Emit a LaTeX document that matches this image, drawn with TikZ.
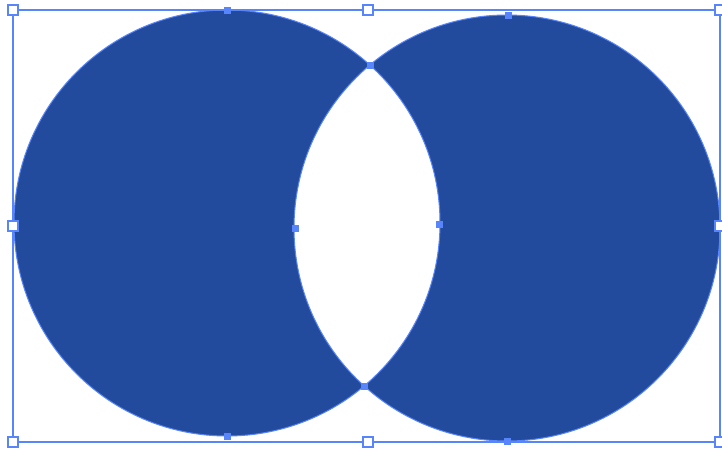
\documentclass[tikz,border=0pt]{standalone}
\usetikzlibrary{calc}
\definecolor{fillBlue}{RGB}{35,75,157}
\definecolor{selectBlue}{RGB}{88,134,250}

\begin{document}
\begin{tikzpicture}
[x=1pt,y=-1pt,
circleShape/.style={fill=fillBlue,draw=selectBlue,line width=1pt,even odd rule},
frame/.style={draw=selectBlue,line width=2pt},
handle/.style={rectangle,minimum size=10pt,inner sep=0pt,fill=white,draw=selectBlue,line width=2pt},
anchorPt/.style={rectangle,minimum size=7pt,inner sep=0pt,fill=selectBlue},
]
\useasboundingbox (0,0) rectangle (722,450);
\coordinate (L) at (227,223);
\coordinate (R) at (507,228);
\path[circleShape] (L) circle[radius=213] (R) circle[radius=213];
\coordinate (c1) at (13,10);
\coordinate (c2) at (720,442);
\draw[frame] (c1) rectangle (c2);
\node[anchorPt] (a1) at (227,10) {};
\node[anchorPt] (a2) at (370,65) {};
\node[anchorPt] (a3) at (508,15) {};
\node[anchorPt] (a4) at (295,228) {};
\node[anchorPt] (a5) at (439,224) {};
\node[anchorPt] (a6) at (364,386) {};
\node[anchorPt] (a7) at (227,436) {};
\node[anchorPt] (a8) at (507,441) {};
\node[anchorPt] (a9) at (720,228) {};
\node[anchorPt] (a10) at (14,223) {};
\node[handle] (h1) at (13,10) {};
\node[handle] (h2) at (368,10) {};
\node[handle] (h3) at (720,10) {};
\node[handle] (h4) at (13,226) {};
\node[handle] (h5) at (720,226) {};
\node[handle] (h6) at (13,442) {};
\node[handle] (h7) at (368,442) {};
\node[handle] (h8) at (720,442) {};
\end{tikzpicture}
\end{document}
